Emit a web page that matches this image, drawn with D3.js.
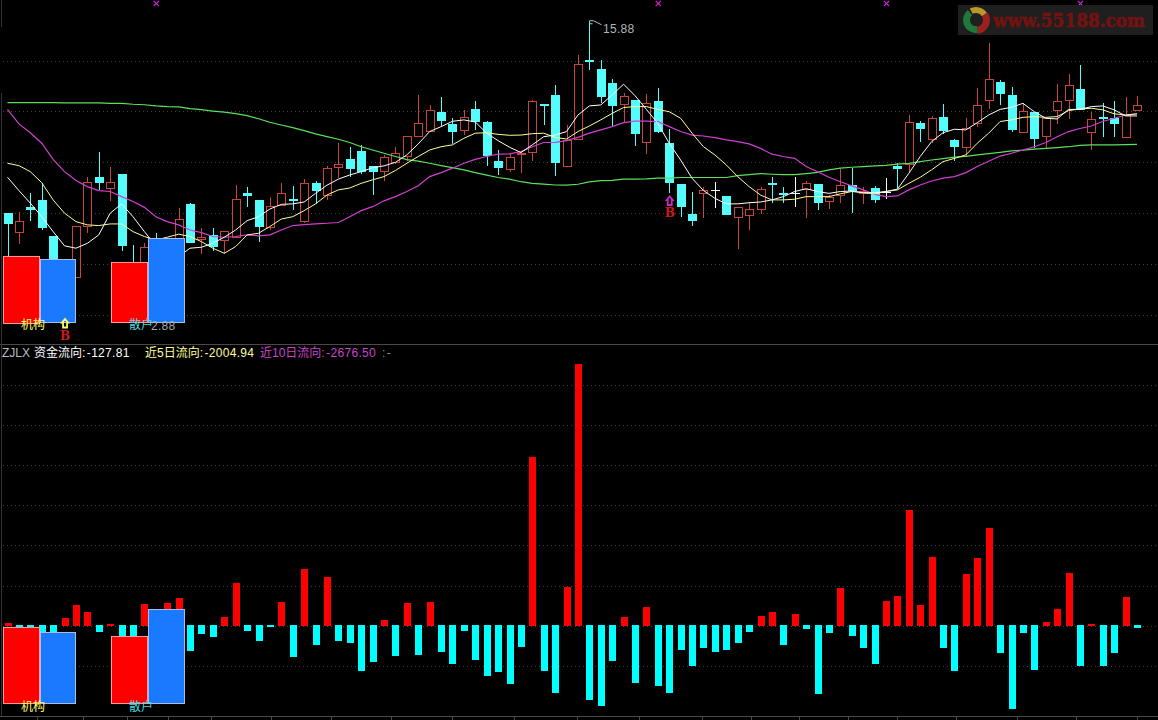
<!DOCTYPE html>
<html>
<head>
<meta charset="utf-8">
<script src="https://cdn.jsdelivr.net/npm/d3@7/dist/d3.min.js"></script>
<style>
html,body{margin:0;padding:0;background:#000;overflow:hidden}
svg{display:block}
text{font-family:"Liberation Sans","Noto Sans CJK SC",sans-serif;font-size:12px}
</style>
</head>
<body>
<svg id="c" width="1158" height="720"></svg>
<script>
const opens = [7.63,6.81,7.90,8.18,6.66,4.63,4.88,7.06,9.17,8.73,9.31,5.34,5.06,6.34,5.34,6.34,8.03,6.51,6.68,6.46,6.60,8.50,8.18,7.04,8.00,8.23,7.31,8.93,8.43,9.63,9.96,10.28,9.64,9.46,9.84,10.10,10.93,11.14,11.97,11.46,11.18,12.08,11.54,9.86,9.54,10.16,10.27,12.30,12.68,9.67,10.80,14.18,13.80,13.20,12.33,12.47,10.70,12.44,10.63,8.87,7.60,8.48,8.64,8.36,7.48,7.57,7.80,8.94,8.48,8.51,8.68,8.88,8.14,8.40,8.86,8.50,8.70,8.56,9.66,9.73,11.50,10.80,11.74,10.76,10.48,11.51,12.47,13.24,12.68,11.13,11.96,10.93,12.04,12.47,12.96,11.13,11.74,11.70,10.91,12.04];
const closes = [7.17,7.28,7.78,7.00,5.48,5.34,7.06,8.96,8.94,8.96,6.23,4.20,6.17,4.20,6.34,7.38,6.37,6.60,6.18,6.86,8.23,8.38,7.04,7.93,8.48,8.14,8.91,8.58,9.56,9.73,9.54,9.40,9.41,10.03,10.23,10.93,11.48,12.04,11.60,11.11,11.74,11.54,10.08,9.58,10.03,10.23,12.43,12.24,9.80,10.77,14.01,14.13,12.61,12.24,12.66,11.03,12.37,11.11,8.94,7.91,7.31,8.61,8.64,7.56,7.88,7.80,8.66,8.83,8.43,8.51,8.91,8.08,8.33,8.83,8.57,8.58,8.21,8.56,9.54,11.53,11.26,11.70,11.17,10.48,11.28,12.26,13.37,12.76,11.21,12.03,10.81,11.70,12.46,13.11,12.07,11.68,11.68,11.47,11.84,12.26];
const highs = [7.63,7.68,8.48,8.94,6.66,5.48,7.06,9.17,10.24,9.60,9.31,6.26,6.37,6.77,6.48,7.84,8.06,6.98,6.98,6.86,8.83,8.76,8.18,8.33,8.93,8.80,9.08,9.00,9.66,10.66,10.48,10.57,9.64,10.13,10.48,10.93,12.70,12.27,12.60,11.70,12.06,12.44,11.60,10.34,10.17,10.31,12.48,12.30,13.13,11.40,14.40,15.88,14.18,13.37,12.77,12.47,12.74,13.00,11.23,8.87,8.54,8.77,8.96,8.36,7.88,8.06,8.74,9.17,8.76,9.17,9.00,8.88,8.43,9.54,9.58,8.74,8.80,9.14,9.77,11.83,11.58,11.78,12.31,10.81,11.71,12.98,14.94,13.34,13.03,12.34,11.96,11.70,13.17,13.60,13.98,11.97,12.34,12.44,12.60,12.66];
const lows = [5.48,6.31,7.31,6.93,5.34,4.34,4.88,6.80,8.63,8.17,6.03,3.91,4.77,2.88,5.06,6.06,6.34,5.88,6.03,5.88,6.60,7.91,6.41,6.91,8.00,7.77,7.23,8.03,8.20,9.14,9.20,9.31,8.41,9.01,9.74,9.86,10.93,11.14,11.37,10.60,11.00,11.20,9.67,9.28,9.41,9.37,9.88,11.43,9.23,9.67,10.80,13.78,12.34,11.34,11.56,10.53,10.17,11.08,8.48,7.48,7.06,7.43,7.87,7.54,6.11,6.91,7.58,8.08,8.08,7.91,7.43,7.77,7.81,8.06,7.66,8.03,8.08,8.26,8.68,9.34,10.68,10.63,11.03,9.87,10.08,11.31,12.10,12.27,11.13,11.08,10.43,10.43,11.46,11.68,12.04,10.34,10.90,10.90,10.91,12.04];
const ma5 = [9.17,8.60,8.06,7.48,6.84,6.23,6.13,6.34,6.70,7.63,8.03,7.48,6.84,6.23,5.77,5.77,6.13,6.17,6.34,6.60,6.91,7.31,7.48,7.81,8.01,8.03,8.11,8.48,8.83,9.09,9.27,9.41,9.58,9.66,9.81,10.13,10.60,11.13,11.34,11.57,11.63,11.54,11.06,10.74,10.46,10.23,10.56,10.91,10.98,11.13,11.84,12.23,12.27,12.70,13.16,12.67,12.08,11.48,10.63,9.91,9.13,8.60,8.27,8.03,8.03,8.08,8.11,8.20,8.34,8.56,8.68,8.56,8.48,8.56,8.58,8.51,8.51,8.56,8.66,9.34,10.06,10.70,11.08,11.23,11.20,11.51,11.84,12.08,12.17,12.34,11.98,11.70,11.67,12.08,12.08,12.20,12.23,12.06,11.80,11.80];
const ma10 = [9.77,9.67,9.41,8.94,8.20,7.63,7.27,7.13,7.10,7.17,7.17,6.84,6.63,6.48,6.60,6.73,6.63,6.41,6.13,5.91,6.20,6.70,6.77,7.06,7.38,7.48,7.74,8.03,8.41,8.63,8.71,8.91,9.06,9.20,9.46,9.77,10.06,10.34,10.48,10.56,10.84,11.06,11.08,11.01,10.97,10.98,11.04,11.06,10.88,10.81,11.13,11.37,11.63,11.91,12.16,12.20,12.20,12.08,11.98,11.70,11.06,10.48,10.13,9.70,9.20,8.77,8.41,8.20,8.20,8.23,8.34,8.34,8.34,8.46,8.56,8.51,8.46,8.56,8.63,8.91,9.17,9.49,9.84,9.98,10.13,10.63,11.06,11.56,11.63,11.74,11.77,11.74,11.77,12.03,12.10,12.13,12.06,11.89,11.84,11.89];
const ma20 = [12.08,11.46,11.08,10.63,9.94,9.41,9.03,8.77,8.60,8.56,8.34,8.13,7.88,7.48,7.27,7.13,6.91,6.80,6.63,6.60,6.63,6.70,6.66,6.70,6.91,7.10,7.14,7.17,7.20,7.23,7.48,7.74,7.91,8.16,8.34,8.56,8.81,9.20,9.37,9.56,9.77,9.94,10.06,10.16,10.17,10.27,10.48,10.66,10.67,10.74,10.88,11.06,11.20,11.34,11.51,11.58,11.58,11.56,11.34,11.13,10.98,10.94,10.87,10.77,10.70,10.60,10.41,10.16,10.06,9.98,9.63,9.41,9.17,8.98,8.80,8.63,8.44,8.34,8.37,8.63,8.84,9.01,9.13,9.20,9.37,9.63,9.86,10.08,10.20,10.34,10.48,10.66,10.91,11.13,11.26,11.37,11.56,11.70,11.84,11.89];
const ma60 = [12.37,12.37,12.37,12.37,12.37,12.36,12.36,12.36,12.36,12.34,12.34,12.30,12.28,12.23,12.20,12.19,12.11,12.07,12.01,11.96,11.90,11.81,11.68,11.53,11.41,11.30,11.17,11.03,10.91,10.80,10.66,10.48,10.34,10.20,10.06,9.93,9.86,9.77,9.67,9.58,9.49,9.37,9.26,9.16,9.09,8.98,8.91,8.88,8.84,8.83,8.87,8.97,9.03,9.04,9.09,9.09,9.10,9.13,9.13,9.16,9.16,9.16,9.16,9.16,9.24,9.28,9.33,9.30,9.28,9.28,9.33,9.38,9.49,9.56,9.60,9.63,9.66,9.68,9.73,9.77,9.84,9.91,9.97,10.03,10.07,10.13,10.18,10.24,10.30,10.33,10.38,10.41,10.44,10.48,10.54,10.56,10.56,10.56,10.57,10.58];
const flow = [133,-133,-133,-717,-400,383,1033,683,-317,83,-583,-583,1083,-667,1150,1383,-1250,-400,-583,450,2150,-250,-750,-83,1200,-1550,2850,-950,2450,-750,-850,-2250,-1800,300,-1533,1133,-1450,1183,-1300,-1900,-250,-1700,-2500,-2300,-2900,-1050,8450,-2250,-3350,1950,13083,-3700,-4000,-1750,450,-2850,950,-3000,-3350,-1200,-2000,-1100,-1300,-1200,-850,-300,500,683,-950,583,-150,-3400,-350,1900,-500,-1100,-1900,1250,1483,5783,1033,3433,-1100,-2250,2583,3383,4883,-1350,-4150,-350,-2200,183,833,2633,-2000,67,-2000,-1350,1433,-127.81];
const priceGridLevels = [14.17,12.03,9.82,7.65,5.46,3.28];
const flowGridLevels = [-2010,0,2010,4020,6030,8040,10050,12060];
const crossMarks = [13,57,77,94];
const axisTicks = [37,83,127,168,211,271,331,391,452,514,577,639,702,751,799,848,897,956,1017,1076,1137];
const boxGroups = ["机构","散户"];
const boxTopValues = [66.5,63,60,84];
const boxBottomValues = [76,71,67,94];
const signals = [{i:5,color:"#ffff66"},{i:58,color:"#c828c8"}];
const header = [
  {name:"ZJLX",value:"",x:2,color:"#bdbdbd"},
  {name:"资金流向:",value:"-127.81",x:34,color:"#ffffff"},
  {name:"近5日流向:",value:"-2004.94",x:145,color:"#ffff99"},
  {name:"近10日流向:",value:"-2676.50",x:260,color:"#c845c8"},
  {name:":",value:"-",x:382,color:"#7f9f7f"}
];

const W = 1158;
const svg = d3.select("#c");
const x = d3.scaleLinear().domain([0,99]).range([7.5,1137]);
const yP = d3.scaleLinear().domain([16.77,2.88]).range([0,324]);
const yF = d3.scaleLinear().domain([0,2000]).range([625.7,585.7]);
const crisp = v => Math.round(v);

svg.append("rect").attr("width",W).attr("height",720).attr("fill","#000");

// frame
const frame = svg.append("g").attr("stroke","#4a4a4a").attr("shape-rendering","crispEdges");
frame.append("line").attr("x1",0).attr("x2",W).attr("y1",344.5).attr("y2",344.5);
frame.append("line").attr("x1",0).attr("x2",W).attr("y1",716.5).attr("y2",716.5);
frame.append("line").attr("x1",1.5).attr("x2",1.5).attr("y1",0).attr("y2",27).attr("stroke","#333");
frame.append("line").attr("x1",1.5).attr("x2",1.5).attr("y1",93).attr("y2",716).attr("stroke","#333");
frame.selectAll(".t").data(axisTicks).join("line")
  .attr("x1",d=>d+.5).attr("x2",d=>d+.5).attr("y1",716.5).attr("y2",720);

// grids
const gridStroke = "#3d3d3d", gridDash = "1 3";
svg.append("g").selectAll("line").data(priceGridLevels).join("line")
  .attr("x1",3).attr("x2",W).attr("y1",d=>crisp(yP(d))+.5).attr("y2",d=>crisp(yP(d))+.5)
  .attr("stroke",gridStroke).attr("stroke-dasharray",gridDash);
svg.append("g").selectAll("line").data(flowGridLevels).join("line")
  .attr("x1",3).attr("x2",W).attr("y1",d=>crisp(yF(d))+.5).attr("y2",d=>crisp(yF(d))+.5)
  .attr("stroke",gridStroke).attr("stroke-dasharray",gridDash);

// candles
const idx = d3.range(opens.length);
const red = "#c8443c", cyan = "#54fcfc";
const colorOf = i => closes[i] > opens[i] ? red : closes[i] < opens[i] ? cyan : "#ffffff";
const cg = svg.append("g").attr("shape-rendering","crispEdges");
idx.forEach(i => {
  const cx = crisp(x(i)), col = colorOf(i);
  const top = yP(Math.max(opens[i],closes[i])), bot = yP(Math.min(opens[i],closes[i]));
  cg.append("line").attr("x1",cx+.5).attr("x2",cx+.5).attr("y1",yP(highs[i])).attr("y2",yP(lows[i])).attr("stroke",col);
  if (closes[i] === opens[i]) {
    cg.append("line").attr("x1",cx-4).attr("x2",cx+5).attr("y1",crisp(top)+.5).attr("y2",crisp(top)+.5).attr("stroke",col);
  } else if (closes[i] > opens[i]) {
    cg.append("rect").attr("x",cx-3.5).attr("width",8).attr("y",crisp(top)+.5).attr("height",Math.max(1,crisp(bot)-crisp(top))).attr("fill","#000").attr("stroke",col);
  } else {
    cg.append("rect").attr("x",cx-4).attr("width",9).attr("y",crisp(top)).attr("height",Math.max(2,crisp(bot)-crisp(top))).attr("fill",col);
  }
});

// moving averages
const line = d3.line().x((d,i)=>x(i)).y(d=>yP(d));
[[ma60,"#5ce05c",1.2],[ma20,"#d040d0",1.2],[ma10,"#ffff99",1],[ma5,"#ffffff",1]].forEach(([s,c,w])=>{
  svg.append("path").attr("d",line(s)).attr("fill","none").attr("stroke",c).attr("stroke-width",w);
});

// cross marks on top
svg.append("g").selectAll("path").data(crossMarks).join("path")
  .attr("transform",d=>`translate(${x(d)+.5},3.5)`)
  .attr("d",d3.symbol(d3.symbolX,20))
  .attr("stroke","#d020d0").attr("stroke-width",1.3).attr("fill","#d020d0");

// flow bars
svg.append("g").attr("shape-rendering","crispEdges").selectAll("rect").data(flow).join("rect")
  .attr("x",(d,i)=>crisp(x(i))-3).attr("width",7)
  .attr("y",d=> d>=0 ? yF(d) : yF(0)-.7)
  .attr("height",d=> Math.abs(yF(d)-yF(0)) + (d>=0?.3:.7))
  .attr("fill",d=> d>=0 ? "#ff0000" : "#00ffff");

// overlay boxes
const boxSlots = [[3.5,35.5],[40.5,35],[111.5,35.5],[148.5,35.5]];
const boxFill = ["#ff0000","#1a7aff","#ff0000","#1a7aff"];
const boxStroke = ["#ff9a9a","#a8bce4","#ff9a9a","#a8bce4"];
function boxes(values, baseline){
  const yb = d3.scaleLinear().domain([0,100]).range([baseline,baseline-100]);
  svg.append("g").attr("shape-rendering","crispEdges").selectAll("rect").data(values).join("rect")
    .attr("x",(d,i)=>boxSlots[i][0]).attr("width",(d,i)=>boxSlots[i][1])
    .attr("y",d=>Math.round(yb(d))+.5).attr("height",d=>Math.round(baseline-yb(d)))
    .attr("fill",(d,i)=>boxFill[i]).attr("stroke",(d,i)=>boxStroke[i]);
}
boxes(boxTopValues,322);
boxes(boxBottomValues,703);

// box captions
const cjk = '"Noto Sans CJK SC",sans-serif';
[[21,329],[21,711]].forEach(([a,b])=>svg.append("text").attr("x",a).attr("y",b).attr("fill","#ffff66").style("font-family",cjk).text(boxGroups[0]));
[[129,329],[129,711]].forEach(([a,b])=>svg.append("text").attr("x",a).attr("y",b).attr("fill","#4fd8e0").style("font-family",cjk).text(boxGroups[1]));
svg.append("text").attr("x",151).attr("y",330).attr("fill","#a8a8a8").attr("letter-spacing",".3").text("2.88");

// high annotation
const hx = crisp(x(51))+.5, hy = yP(15.88);
svg.append("path").attr("d",`M${hx},${hy} h4 M${hx},${hy+3} h3 M${hx+4},${hy} L${hx+12},${hy+4}`).attr("stroke","#bdbdbd").attr("fill","none");
svg.append("text").attr("x",603).attr("y",33).attr("fill","#b4b4b4").attr("letter-spacing",".3").text("15.88");

// buy signals
const arrow = "M0,-4.5 L3,-1 L2,-1 L2,4 L-2,4 L-2,-1 L-3,-1 Z";
signals.forEach((s,k)=>{
  const cx = x(s.i)+.5, cy = k===0 ? 323.5 : 201, by = k===0 ? 340 : 217;
  svg.append("path").attr("d",arrow).attr("transform",`translate(${cx},${cy})`).attr("fill","none").attr("stroke",s.color).attr("stroke-width",1.8);
  svg.append("text").attr("x",cx).attr("y",by).attr("text-anchor","middle").attr("fill","#cc1a1a")
    .style("font-family","'DejaVu Serif',serif").style("font-weight","bold").style("font-size","12px").text("B");
});

// header
header.forEach(h=>{
  const t = svg.append("text").attr("x",h.x).attr("y",357).attr("fill",h.color);
  t.append("tspan").text(h.name);
  if (h.value) t.append("tspan").attr("dx",1.5).attr("letter-spacing",".3").text(h.value);
});

// watermark
const wm = svg.append("g");
wm.append("rect").attr("x",958).attr("y",5).attr("width",195).attr("height",30).attr("fill","#1f1f1f");
const arc = d3.arc();
[[-0.5,1.0,"#b8982a",7,13],[1.0,3.0,"#9c2020",7,14],[3.0,5.6,"#1f7a3a",6,13]].forEach(([a,b,c,r0,r1])=>{
  wm.append("path").attr("transform","translate(976,20)").attr("d",arc({innerRadius:r0,outerRadius:r1,startAngle:a,endAngle:b})).attr("fill",c);
});
wm.append("text").attr("transform","translate(993,27) scale(1,1.27)").attr("fill","#741212").attr("stroke","#741212").attr("stroke-width",".5")
  .attr("textLength",152).attr("lengthAdjust","spacingAndGlyphs")
  .style("font-family","'DejaVu Serif',serif").style("font-weight","bold").style("font-size","15px").text("www.55188.com");
</script>
</body>
</html>
